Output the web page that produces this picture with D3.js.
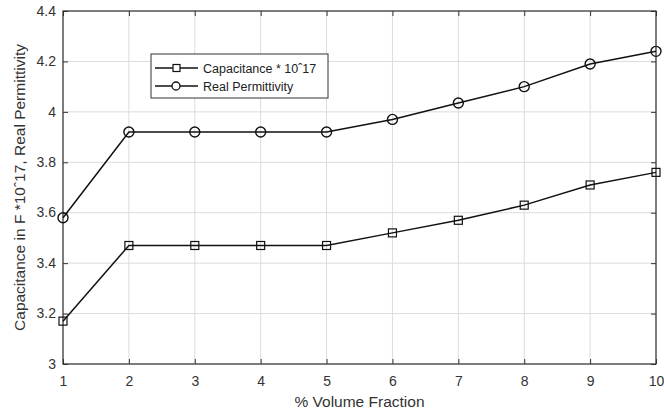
<!DOCTYPE html>
<html>
<head>
<meta charset="utf-8">
<script src="https://cdn.jsdelivr.net/npm/d3@7"></script>
<style>
  html, body { margin: 0; padding: 0; background: #fff; overflow: hidden; }
  svg { display: block; font-family: "Liberation Sans", Arial, sans-serif; }
</style>
</head>
<body>
<div id="chart"></div>
<script>
// data
const volumeFraction = [1, 2, 3, 4, 5, 6, 7, 8, 9, 10]
const capacitance = [3.17, 3.47, 3.47, 3.47, 3.47, 3.52, 3.57, 3.63, 3.71, 3.76]
const permittivity = [3.58, 3.92, 3.92, 3.92, 3.92, 3.97, 4.035, 4.10, 4.19, 4.24]
const xTicks = [1, 2, 3, 4, 5, 6, 7, 8, 9, 10]
const yTicks = [3, 3.2, 3.4, 3.6, 3.8, 4, 4.2, 4.4]
const seriesNames = ['Capacitance * 10\u02C617', 'Real Permittivity']

const width = 664
const height = 414
const margin = { top: 11, right: 8, bottom: 50, left: 63 }
const innerWidth = width - margin.left - margin.right
const innerHeight = height - margin.top - margin.bottom

const xScale = d3.scaleLinear().domain([1, 10]).range([0, innerWidth])
const yScale = d3.scaleLinear().domain([3, 4.4]).range([innerHeight, 0])

const svg = d3.select('#chart').append('svg')
    .attr('width', width)
    .attr('height', height)

const g = svg.append('g')
    .attr('transform', `translate(${margin.left},${margin.top})`)

// grid
g.append('g').selectAll('line')
    .data(xTicks)
    .enter().append('line')
        .attr('x1', d => xScale(d)).attr('x2', d => xScale(d))
        .attr('y1', 0).attr('y2', innerHeight)
        .style('stroke', '#dcdcdc').style('stroke-width', 1)

g.append('g').selectAll('line')
    .data(yTicks)
    .enter().append('line')
        .attr('x1', 0).attr('x2', innerWidth)
        .attr('y1', d => yScale(d)).attr('y2', d => yScale(d))
        .style('stroke', '#dcdcdc').style('stroke-width', 1)

// axes, ticks pointing inwards like matlab
const tickLen = 5
const xAxis = d3.axisBottom(xScale).tickValues(xTicks).tickSizeInner(-tickLen).tickSizeOuter(0).tickPadding(12)
const yAxis = d3.axisLeft(yScale).tickValues(yTicks).tickSizeInner(-tickLen).tickSizeOuter(0).tickPadding(7)
    .tickFormat(d => d3.format('')(+d.toFixed(1)))

const xAxisG = g.append('g')
    .attr('transform', `translate(0,${innerHeight})`)
    .call(xAxis)
const yAxisG = g.append('g').call(yAxis)

// top and right ticks, no labels
const topG = g.append('g').call(d3.axisTop(xScale).tickValues(xTicks).tickSizeInner(-tickLen).tickSizeOuter(0))
const rightG = g.append('g').attr('transform', `translate(${innerWidth},0)`)
    .call(d3.axisRight(yScale).tickValues(yTicks).tickSizeInner(-tickLen).tickSizeOuter(0))
topG.selectAll('text').remove()
rightG.selectAll('text').remove()

g.selectAll('.domain').remove()
g.selectAll('.tick line').style('stroke', '#333')
g.selectAll('.tick text').style('font-size', '14px').style('fill', '#333')
    .style('font-family', '"Liberation Sans", Arial, sans-serif')
yAxisG.selectAll('.tick text').attr('dy', '0.3em')

// box
g.append('rect')
    .attr('width', innerWidth).attr('height', innerHeight)
    .style('fill', 'none').style('stroke', '#333').style('stroke-width', 1.2)

// axis titles
svg.append('text')
    .attr('x', margin.left + innerWidth / 2)
    .attr('y', height - 7)
    .attr('text-anchor', 'middle')
    .style('font-size', '15.5px').style('fill', '#333')
    .text('% Volume Fraction')

svg.append('text')
    .attr('transform', `translate(25,${margin.top + innerHeight / 2}) rotate(-90)`)
    .attr('text-anchor', 'middle')
    .style('font-size', '15.5px').style('fill', '#333')
    .text('Capacitance in F *10\u02C617, Real Permittivity')

// lines
const line = d3.line()
    .x((d, i) => xScale(volumeFraction[i]))
    .y(d => yScale(d))

const series = [capacitance, permittivity]

g.selectAll('.series-line')
    .data(series)
    .enter().append('path')
        .attr('class', 'series-line')
        .attr('d', d => line(d))
        .style('fill', 'none').style('stroke', '#111').style('stroke-width', 1.5)

// square markers
g.selectAll('.sq')
    .data(capacitance)
    .enter().append('rect')
        .attr('x', (d, i) => xScale(volumeFraction[i]) - 4)
        .attr('y', d => yScale(d) - 4)
        .attr('width', 8).attr('height', 8)
        .style('fill', 'none').style('stroke', '#111').style('stroke-width', 1.2)

// circle markers
g.selectAll('.circ')
    .data(permittivity)
    .enter().append('circle')
        .attr('cx', (d, i) => xScale(volumeFraction[i]))
        .attr('cy', d => yScale(d))
        .attr('r', 5)
        .style('fill', 'none').style('stroke', '#111').style('stroke-width', 1.4)

// legend
const legend = svg.append('g').attr('transform', 'translate(151,54)')
legend.append('rect')
    .attr('width', 177).attr('height', 44)
    .style('fill', '#fff').style('stroke', '#333').style('stroke-width', 1)

seriesNames.forEach((name, i) => {
    const y = 14 + i * 18
    legend.append('line')
        .attr('x1', 4).attr('x2', 47).attr('y1', y).attr('y2', y)
        .style('stroke', '#111').style('stroke-width', 1.5)
    if (i === 0) {
        legend.append('rect')
            .attr('x', 22).attr('y', y - 3.5).attr('width', 7).attr('height', 7)
            .style('fill', '#fff').style('stroke', '#111').style('stroke-width', 1.2)
    } else {
        legend.append('circle')
            .attr('cx', 25).attr('cy', y).attr('r', 4)
            .style('fill', '#fff').style('stroke', '#111').style('stroke-width', 1.3)
    }
    legend.append('text')
        .attr('x', 52).attr('y', y + 4.5)
        .style('font-size', '12.5px').style('fill', '#222')
        .text(name)
})
</script>
</body>
</html>
